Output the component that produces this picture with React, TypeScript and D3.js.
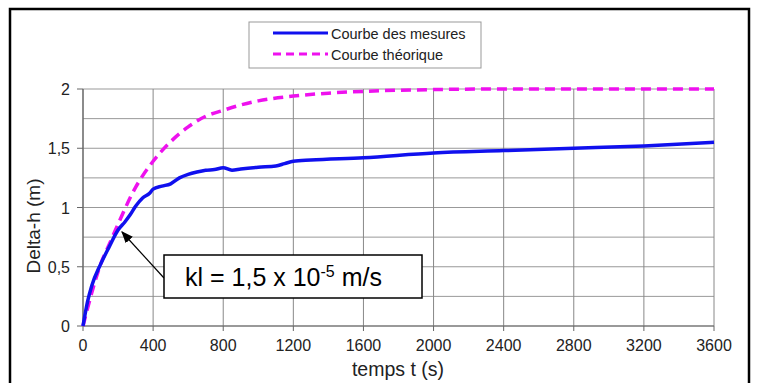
import React from "react";
import * as d3 from "d3";

// measured curve (t in s, delta-h in m)
const measT = [0, 25, 50, 100, 150, 200, 240, 270, 300, 340, 380, 400, 450, 500, 550, 600, 650, 700, 750, 800, 850, 900, 1000, 1100, 1150, 1200, 1300, 1600, 2000, 2400, 2800, 3200, 3600];
const measH = [0, 0.2, 0.34, 0.52, 0.67, 0.81, 0.88, 0.94, 1.01, 1.08, 1.12, 1.155, 1.18, 1.2, 1.25, 1.28, 1.3, 1.315, 1.32, 1.335, 1.315, 1.325, 1.34, 1.35, 1.37, 1.39, 1.4, 1.42, 1.46, 1.48, 1.5, 1.52, 1.55];

// theoretical curve
const theoT = [0, 50, 100, 150, 200, 300, 400, 500, 600, 700, 800, 900, 1000, 1200, 1400, 1600, 2000, 2400, 3600];
const theoH = [0, 0.28, 0.52, 0.69, 0.86, 1.17, 1.39, 1.555, 1.68, 1.77, 1.82, 1.865, 1.9, 1.94, 1.965, 1.98, 1.995, 2, 2];

const xTicks = [0, 400, 800, 1200, 1600, 2000, 2400, 2800, 3200, 3600];
const yTicks = [0, 0.5, 1, 1.5, 2];
const yGrid = [0, 0.25, 0.5, 0.75, 1, 1.25, 1.5, 1.75, 2];
const yLabels = ["0", "0,5", "1", "1,5", "2"];

export default function App() {
  const W = 757, H = 383;
  const x = d3.scaleLinear().domain([0, 3600]).range([83, 714]);
  const y = d3.scaleLinear().domain([0, 2]).range([326, 89]);
  const line = d3
    .line<[number, number]>()
    .x((d) => x(d[0]))
    .y((d) => y(d[1]))
    .curve(d3.curveMonotoneX);
  const meas = measT.map((t, i) => [t, measH[i]] as [number, number]);
  const theo = theoT.map((t, i) => [t, theoH[i]] as [number, number]);
  const font = "'Liberation Sans', Arial, sans-serif";

  return (
    <svg width={W} height={H} style={{ position: "absolute", left: 0, top: 0 }} fontFamily={font}>
      <rect x={0} y={0} width={W} height={H} fill="#fff" />
      {/* outer frame, bottom edge lies below the picture */}
      <rect x={10} y={9} width={739} height={385} fill="none" stroke="#000" strokeWidth={2.5} />

      {/* grid */}
      {yGrid.map((v) => (
        <line key={"h" + v} x1={x(0)} x2={x(3600)} y1={y(v)} y2={y(v)} stroke="#999" strokeWidth={1} />
      ))}
      {xTicks.map((v) => (
        <line key={"v" + v} x1={x(v)} x2={x(v)} y1={y(0)} y2={y(2)} stroke="#888" strokeWidth={1} />
      ))}
      <line x1={x(0)} x2={x(0)} y1={y(0)} y2={y(2)} stroke="#666" strokeWidth={1.2} />
      <line x1={x(0)} x2={x(3600)} y1={y(0)} y2={y(0)} stroke="#666" strokeWidth={1.2} />

      {/* ticks and labels */}
      {yTicks.map((v, i) => (
        <g key={"yt" + v}>
          <line x1={x(0) - 6} x2={x(0)} y1={y(v)} y2={y(v)} stroke="#666" />
          <text x={70} y={y(v) + 6} textAnchor="end" fontSize={16} fill="#222">{yLabels[i]}</text>
        </g>
      ))}
      {xTicks.map((v) => (
        <g key={"xt" + v}>
          <line x1={x(v)} x2={x(v)} y1={y(0)} y2={y(0) + 5} stroke="#666" />
          <text x={x(v)} y={351} textAnchor="middle" fontSize={16} fill="#222">{v}</text>
        </g>
      ))}
      <text x={398} y={376} textAnchor="middle" fontSize={19.5} fill="#222">temps t (s)</text>
      <text transform={`translate(40,${226}) rotate(-90)`} textAnchor="middle" fontSize={19} fill="#222">Delta-h (m)</text>

      {/* curves */}
      <path d={line(theo) || ""} fill="none" stroke="#ee11ee" strokeWidth={3.5} strokeDasharray="10,6" />
      <path d={line(meas) || ""} fill="none" stroke="#1010ee" strokeWidth={3.5} strokeLinejoin="round" />

      {/* legend */}
      <rect x={249} y={22} width={232} height={46} fill="#fff" stroke="#999" strokeWidth={1} />
      <line x1={273} x2={328} y1={33} y2={33} stroke="#1010ee" strokeWidth={3} />
      <text x={331} y={38.5} fontSize={14.5} fill="#222">Courbe des mesures</text>
      <line x1={273} x2={328} y1={54} y2={54} stroke="#ee11ee" strokeWidth={3} strokeDasharray="8,5" />
      <text x={331} y={59.5} fontSize={14.5} fill="#222">Courbe théorique</text>

      {/* annotation */}
      <defs>
        <marker id="arr" viewBox="0 0 10 10" refX={9} refY={5} markerWidth={10} markerHeight={10} orient="auto">
          <path d="M0,1 L10,5 L0,9 z" fill="#000" />
        </marker>
      </defs>
      <line x1={164} y1={278} x2={122} y2={232} stroke="#000" strokeWidth={1.2} markerEnd="url(#arr)" />
      <rect x={164} y={255} width={258} height={43} fill="#fff" stroke="#000" strokeWidth={1.5} />
      <text x={185} y={286} fontSize={25} fill="#000">
        kl = 1,5 x 10<tspan fontSize={16} dy={-9}>-5</tspan><tspan dy={9}> m/s</tspan>
      </text>
    </svg>
  );
}
